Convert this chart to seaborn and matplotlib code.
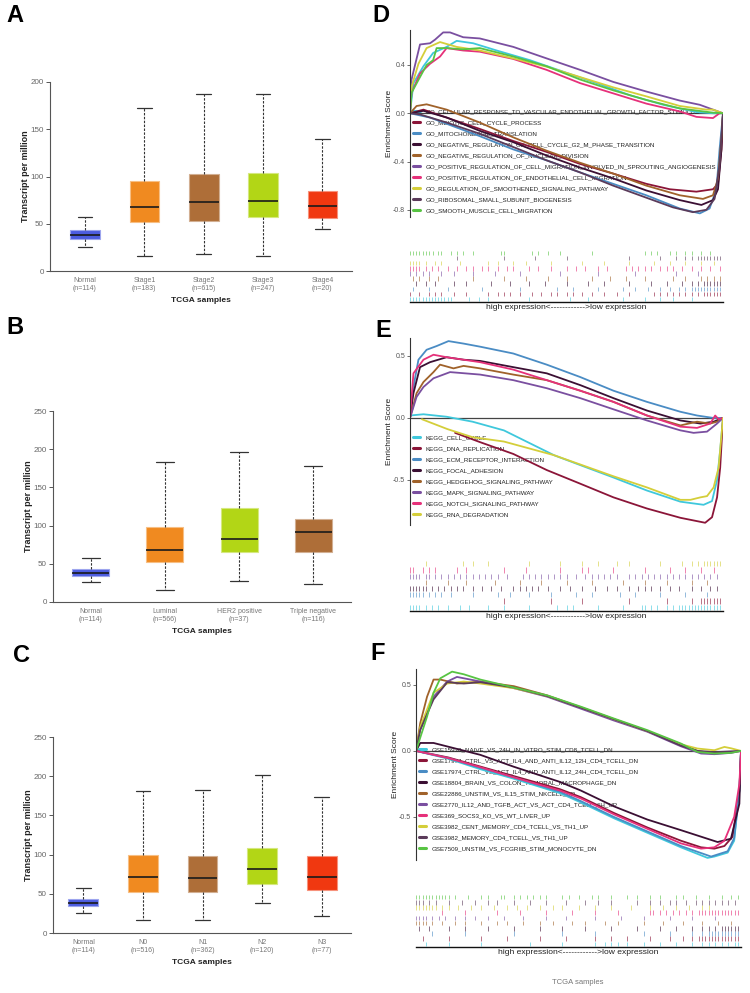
import numpy as np
import pandas as pd
import matplotlib
matplotlib.use("Agg")
import matplotlib.pyplot as plt
import matplotlib.colors as mcolors
from matplotlib.lines import Line2D
import seaborn as sns

# ---------------------------------------------------------------- data: box plots
BLUE, ORANGE, BROWN, LIME, RED = "#4C5CE0", "#F08A20", "#AE6E38", "#B2D616", "#F03810"

A_GROUPS = ["Normal\n(n=114)", "Stage1\n(n=183)", "Stage2\n(n=615)", "Stage3\n(n=247)", "Stage4\n(n=20)"]
A_COLORS = [BLUE, ORANGE, BROWN, LIME, RED]
A_LOW = [25.7, 15.8, 18.0, 15.8, 44.7]
A_Q1 = [34.2, 51.4, 52.8, 57.0, 55.6]
A_MED = [38.4, 67.6, 72.5, 74.6, 68.7]
A_Q3 = [43.3, 95.0, 102.5, 104.0, 84.9]
A_HIGH = [56.7, 172.5, 187.0, 187.3, 140.0]

B_GROUPS = ["Normal\n(n=114)", "Luminal\n(n=566)", "HER2 positive\n(n=37)", "Triple negative\n(n=116)"]
B_COLORS = [BLUE, ORANGE, LIME, BROWN]
B_LOW = [25.7, 15.7, 27.4, 23.9]
B_Q1 = [34.3, 52.2, 64.8, 65.7]
B_MED = [38.3, 68.7, 82.2, 91.7]
B_Q3 = [43.5, 98.3, 122.6, 109.0]
B_HIGH = [57.0, 182.6, 196.5, 177.8]

C_GROUPS = ["Normal\n(n=114)", "N0\n(n=516)", "N1\n(n=362)", "N2\n(n=120)", "N3\n(n=77)"]
C_COLORS = [BLUE, ORANGE, BROWN, LIME, RED]
C_LOW = [25.9, 16.2, 16.2, 37.8, 21.3]
C_Q1 = [34.9, 52.3, 52.3, 62.5, 54.4]
C_MED = [38.3, 71.0, 70.2, 81.6, 71.9]
C_Q3 = [43.8, 99.5, 98.2, 108.0, 97.8]
C_HIGH = [57.4, 180.7, 182.8, 201.0, 173.9]

# ---------------------------------------------------------------- data: GSEA palettes
CY, DR, BL, DK, BR, PU, PK, YE, MV, GR = ("#3FC8DC", "#8B1538", "#4A8CC4", "#3B0F33", "#A0622A",
                                          "#7A4FA0", "#E6317A", "#D4CE3A", "#5B3B5A", "#58C443")

D_TERMS = ["GO_CELLULAR_RESPONSE_TO_VASCULAR_ENDOTHELIAL_GROWTH_FACTOR_STIMULUS",
           "GO_MEIOTIC_CELL_CYCLE_PROCESS",
           "GO_MITOCHONDRIAL_TRANSLATION",
           "GO_NEGATIVE_REGULATION_OF_CELL_CYCLE_G2_M_PHASE_TRANSITION",
           "GO_NEGATIVE_REGULATION_OF_NUCLEAR_DIVISION",
           "GO_POSITIVE_REGULATION_OF_CELL_MIGRATION_INVOLVED_IN_SPROUTING_ANGIOGENESIS",
           "GO_POSITIVE_REGULATION_OF_ENDOTHELIAL_CELL_MIGRATION",
           "GO_REGULATION_OF_SMOOTHENED_SIGNALING_PATHWAY",
           "GO_RIBOSOMAL_SMALL_SUBUNIT_BIOGENESIS",
           "GO_SMOOTH_MUSCLE_CELL_MIGRATION"]
D_COLORS = [CY, DR, BL, DK, BR, PU, PK, YE, MV, GR]
D_CURVES = [
    [(0, 0), (0.011, 0.25), (0.043, 0.39), (0.074, 0.5), (0.117, 0.55), (0.149, 0.6), (0.202, 0.58), (0.277, 0.52), (0.383, 0.44), (0.489, 0.345), (0.596, 0.25), (0.702, 0.15), (0.809, 0.07), (0.915, 0.01), (0.968, 0.0), (1.0, 0)],
    [(0, 0), (0.043, 0.03), (0.117, -0.036), (0.223, -0.13), (0.33, -0.23), (0.436, -0.32), (0.543, -0.42), (0.649, -0.5), (0.755, -0.585), (0.83, -0.63), (0.915, -0.65), (0.968, -0.63), (0.984, -0.585), (0.995, -0.3), (1.0, 0)],
    [(0, 0), (0.064, -0.036), (0.223, -0.19), (0.33, -0.3), (0.436, -0.39), (0.543, -0.49), (0.649, -0.585), (0.755, -0.68), (0.862, -0.79), (0.926, -0.83), (0.957, -0.79), (0.979, -0.63), (0.989, -0.3), (1.0, 0)],
    [(0, 0), (0.043, 0.02), (0.117, -0.035), (0.223, -0.146), (0.33, -0.24), (0.436, -0.35), (0.543, -0.45), (0.649, -0.54), (0.755, -0.64), (0.862, -0.72), (0.931, -0.76), (0.968, -0.72), (0.984, -0.63), (0.995, -0.3), (1.0, 0)],
    [(0, 0), (0.021, 0.06), (0.053, 0.074), (0.117, 0.03), (0.223, -0.077), (0.33, -0.2), (0.436, -0.31), (0.543, -0.41), (0.649, -0.5), (0.755, -0.6), (0.862, -0.68), (0.936, -0.71), (0.968, -0.68), (0.984, -0.54), (0.995, -0.21), (1.0, 0)],
    [(0, 0), (0.005, 0.28), (0.032, 0.57), (0.064, 0.58), (0.08, 0.61), (0.106, 0.67), (0.128, 0.67), (0.17, 0.63), (0.223, 0.62), (0.33, 0.55), (0.436, 0.455), (0.543, 0.36), (0.649, 0.26), (0.755, 0.18), (0.862, 0.105), (0.926, 0.07), (0.968, 0.03), (1.0, 0)],
    [(0, 0), (0.005, 0.17), (0.032, 0.33), (0.064, 0.41), (0.096, 0.47), (0.117, 0.54), (0.17, 0.52), (0.223, 0.51), (0.33, 0.45), (0.436, 0.36), (0.543, 0.25), (0.649, 0.165), (0.755, 0.08), (0.862, 0.015), (0.915, -0.03), (0.968, -0.04), (0.989, 0.0), (1.0, 0)],
    [(0, 0), (0.005, 0.22), (0.027, 0.41), (0.053, 0.54), (0.096, 0.59), (0.149, 0.55), (0.223, 0.52), (0.33, 0.455), (0.436, 0.386), (0.543, 0.3), (0.649, 0.215), (0.755, 0.14), (0.862, 0.06), (0.947, 0.03), (0.968, 0.03), (1.0, 0)],
    [(0, 0), (0.032, -0.01), (0.117, -0.077), (0.223, -0.17), (0.33, -0.28), (0.436, -0.39), (0.543, -0.49), (0.649, -0.6), (0.755, -0.7), (0.84, -0.78), (0.904, -0.82), (0.947, -0.8), (0.973, -0.71), (0.989, -0.43), (1.0, 0)],
    [(0, 0), (0.005, 0.17), (0.032, 0.3), (0.053, 0.4), (0.074, 0.44), (0.085, 0.54), (0.117, 0.54), (0.17, 0.53), (0.223, 0.54), (0.33, 0.47), (0.436, 0.39), (0.543, 0.28), (0.649, 0.19), (0.755, 0.11), (0.862, 0.04), (0.968, 0.005), (1.0, 0)],
]
D_HITS = [
    [0.0, 0.01, 0.02, 0.03, 0.04, 0.05, 0.06, 0.07, 0.08, 0.09, 0.1, 0.11, 0.12, 0.13, 0.19, 0.22, 0.25, 0.38, 0.51, 0.57, 0.68, 0.75, 0.8, 0.84, 0.9],
    [0.0, 0.03, 0.06, 0.08, 0.1, 0.14, 0.18, 0.25, 0.28, 0.3, 0.32, 0.35, 0.39, 0.42, 0.45, 0.47, 0.5, 0.52, 0.55, 0.58, 0.62, 0.66, 0.7, 0.78, 0.8, 0.82, 0.84, 0.86, 0.88, 0.9, 0.92, 0.94, 0.95, 0.96, 0.97, 0.98, 0.99],
    [0.01, 0.06, 0.12, 0.23, 0.35, 0.47, 0.52, 0.6, 0.68, 0.72, 0.76, 0.8, 0.83, 0.86, 0.88, 0.9, 0.91, 0.92, 0.93, 0.94, 0.95, 0.96, 0.97, 0.98, 0.99],
    [0.02, 0.05, 0.08, 0.14, 0.18, 0.26, 0.32, 0.38, 0.43, 0.5, 0.57, 0.62, 0.7, 0.77, 0.82, 0.87, 0.9, 0.92, 0.94, 0.95, 0.96, 0.97, 0.98, 0.99],
    [0.01, 0.03, 0.06, 0.09, 0.2, 0.3, 0.37, 0.44, 0.5, 0.58, 0.64, 0.69, 0.75, 0.84, 0.88, 0.93, 0.95, 0.97, 0.99],
    [0.0, 0.02, 0.04, 0.06, 0.1, 0.14, 0.2, 0.27, 0.35, 0.48, 0.6, 0.72, 0.85, 0.92],
    [0.0, 0.01, 0.02, 0.03, 0.05, 0.07, 0.09, 0.12, 0.15, 0.18, 0.2, 0.23, 0.25, 0.28, 0.31, 0.33, 0.38, 0.41, 0.45, 0.5, 0.53, 0.56, 0.6, 0.63, 0.69, 0.71, 0.73, 0.75, 0.77, 0.8, 0.82, 0.84, 0.87, 0.9, 0.93, 0.96, 0.99],
    [0.0, 0.01, 0.02, 0.03, 0.05, 0.08, 0.1, 0.16, 0.25, 0.28, 0.33, 0.37, 0.45, 0.55, 0.62, 0.7, 0.78, 0.83, 0.88, 0.93, 0.97],
    [0.15, 0.3, 0.4, 0.5, 0.7, 0.8, 0.85, 0.88, 0.9, 0.92, 0.93, 0.94, 0.95, 0.96, 0.97, 0.98, 0.99],
    [0.0, 0.01, 0.02, 0.03, 0.04, 0.05, 0.06, 0.075, 0.09, 0.1, 0.13, 0.15, 0.17, 0.2, 0.29, 0.3, 0.39, 0.41, 0.44, 0.48, 0.58, 0.75, 0.77, 0.79, 0.83, 0.85, 0.88, 0.9, 0.93, 0.96],
]
D_YTICKS = [-0.8, -0.4, 0.0, 0.4]
D_YLABELS = ["-0.8", "-0.4", "0.0", "0.4"]

E_TERMS = ["KEGG_CELL_CYCLE", "KEGG_DNA_REPLICATION", "KEGG_ECM_RECEPTOR_INTERACTION", "KEGG_FOCAL_ADHESION",
           "KEGG_HEDGEHOG_SIGNALING_PATHWAY", "KEGG_MAPK_SIGNALING_PATHWAY", "KEGG_NOTCH_SIGNALING_PATHWAY",
           "KEGG_RNA_DEGRADATION"]
E_COLORS = [CY, DR, BL, DK, BR, PU, PK, YE]
E_CURVES = [
    [(0, 0.02), (0.043, 0.03), (0.117, 0.01), (0.2, -0.03), (0.3, -0.1), (0.46, -0.3), (0.544, -0.38), (0.65, -0.48), (0.757, -0.585), (0.864, -0.675), (0.938, -0.70), (0.965, -0.67), (0.981, -0.5), (0.991, -0.26), (1.0, 0)],
    [(0.144, -0.12), (0.224, -0.195), (0.33, -0.29), (0.437, -0.42), (0.544, -0.53), (0.65, -0.64), (0.757, -0.73), (0.864, -0.805), (0.943, -0.845), (0.965, -0.8), (0.981, -0.64), (0.991, -0.4), (1.0, 0)],
    [(0, 0), (0.011, 0.25), (0.027, 0.47), (0.053, 0.55), (0.085, 0.58), (0.123, 0.62), (0.171, 0.6), (0.224, 0.575), (0.33, 0.52), (0.437, 0.43), (0.544, 0.33), (0.65, 0.22), (0.757, 0.13), (0.864, 0.05), (0.917, 0.02), (0.97, 0.0), (1.0, 0)],
    [(0, 0), (0.011, 0.2), (0.032, 0.41), (0.064, 0.45), (0.117, 0.49), (0.171, 0.47), (0.224, 0.46), (0.33, 0.41), (0.437, 0.36), (0.544, 0.265), (0.65, 0.16), (0.757, 0.06), (0.864, -0.02), (0.928, -0.045), (0.97, -0.03), (1.0, 0)],
    [(0, 0), (0.021, 0.2), (0.043, 0.29), (0.075, 0.37), (0.096, 0.43), (0.139, 0.4), (0.171, 0.42), (0.224, 0.4), (0.33, 0.35), (0.437, 0.305), (0.544, 0.22), (0.65, 0.13), (0.757, 0.02), (0.864, -0.06), (0.917, -0.03), (0.959, -0.045), (0.981, -0.03), (1.0, 0)],
    [(0, 0), (0.021, 0.17), (0.043, 0.25), (0.075, 0.32), (0.128, 0.37), (0.224, 0.35), (0.33, 0.305), (0.437, 0.24), (0.544, 0.16), (0.65, 0.07), (0.757, -0.02), (0.864, -0.1), (0.906, -0.12), (0.949, -0.11), (0.981, -0.045), (1.0, 0)],
    [(0, 0), (0.011, 0.36), (0.043, 0.47), (0.075, 0.51), (0.117, 0.49), (0.224, 0.45), (0.33, 0.39), (0.437, 0.305), (0.544, 0.22), (0.65, 0.13), (0.757, 0.02), (0.864, -0.07), (0.917, -0.08), (0.959, -0.045), (0.975, 0.02), (0.986, -0.01), (1.0, 0)],
    [(0.038, -0.01), (0.12, -0.09), (0.2, -0.155), (0.3, -0.19), (0.46, -0.3), (0.544, -0.375), (0.65, -0.47), (0.757, -0.56), (0.864, -0.66), (0.896, -0.66), (0.928, -0.64), (0.949, -0.63), (0.97, -0.56), (0.986, -0.4), (1.0, 0)],
]
E_HITS = [
    [0.0, 0.01, 0.02, 0.03, 0.05, 0.07, 0.09, 0.12, 0.16, 0.19, 0.25, 0.3, 0.38, 0.47, 0.5, 0.52, 0.6, 0.68, 0.74, 0.75, 0.77, 0.79, 0.82, 0.84, 0.86, 0.87, 0.88, 0.89, 0.9, 0.91, 0.92, 0.93, 0.94, 0.95, 0.96, 0.97, 0.98, 0.99],
    [0.3, 0.45, 0.55, 0.7, 0.82, 0.9, 0.93, 0.94, 0.95, 0.96, 0.97, 0.98, 0.99],
    [0.0, 0.01, 0.02, 0.03, 0.04, 0.06, 0.08, 0.1, 0.13, 0.2, 0.28, 0.32, 0.38, 0.45, 0.53, 0.58, 0.67, 0.72, 0.8, 0.88, 0.95],
    [0.0, 0.01, 0.02, 0.03, 0.04, 0.05, 0.07, 0.09, 0.11, 0.13, 0.15, 0.17, 0.2, 0.23, 0.26, 0.29, 0.33, 0.35, 0.37, 0.39, 0.41, 0.44, 0.48, 0.51, 0.55, 0.59, 0.63, 0.66, 0.7, 0.73, 0.75, 0.77, 0.8, 0.83, 0.86, 0.9, 0.93, 0.96, 0.98],
    [0.05, 0.12, 0.18, 0.27, 0.35, 0.42, 0.5, 0.58, 0.68, 0.75, 0.82, 0.9, 0.95],
    [0.0, 0.01, 0.02, 0.03, 0.05, 0.06, 0.08, 0.1, 0.12, 0.14, 0.16, 0.18, 0.2, 0.22, 0.24, 0.26, 0.28, 0.31, 0.36, 0.38, 0.4, 0.42, 0.44, 0.46, 0.48, 0.5, 0.53, 0.56, 0.58, 0.6, 0.62, 0.64, 0.66, 0.7, 0.72, 0.74, 0.76, 0.78, 0.8, 0.82, 0.84, 0.86, 0.88, 0.9, 0.92, 0.94, 0.96, 0.98],
    [0.0, 0.01, 0.04, 0.06, 0.08, 0.15, 0.18, 0.3, 0.37, 0.48, 0.55, 0.57, 0.65, 0.75, 0.83, 0.88, 0.93, 0.97],
    [0.05, 0.17, 0.2, 0.25, 0.38, 0.48, 0.55, 0.6, 0.66, 0.7, 0.8, 0.87, 0.9, 0.92, 0.94, 0.95, 0.96, 0.97, 0.98, 0.99],
]
E_YTICKS = [-0.5, 0.0, 0.5]
E_YLABELS = ["-0.5", "0.0", "0.5"]

F_TERMS = ["GSE15930_NAIVE_VS_24H_IN_VITRO_STIM_CD8_TCELL_DN",
           "GSE17974_CTRL_VS_ACT_IL4_AND_ANTI_IL12_12H_CD4_TCELL_DN",
           "GSE17974_CTRL_VS_ACT_IL4_AND_ANTI_IL12_24H_CD4_TCELL_DN",
           "GSE18804_BRAIN_VS_COLON_TUMORAL_MACROPHAGE_DN",
           "GSE22886_UNSTIM_VS_IL15_STIM_NKCELL_UP",
           "GSE2770_IL12_AND_TGFB_ACT_VS_ACT_CD4_TCELL_6H_UP",
           "GSE369_SOCS3_KO_VS_WT_LIVER_UP",
           "GSE3982_CENT_MEMORY_CD4_TCELL_VS_TH1_UP",
           "GSE3982_MEMORY_CD4_TCELL_VS_TH1_UP",
           "GSE7509_UNSTIM_VS_FCGRIIB_STIM_MONOCYTE_DN"]
F_COLORS = [CY, DR, BL, DK, BR, PU, PK, YE, MV, GR]
F_CURVES = [
    [(0, 0), (0.1, -0.06), (0.2, -0.14), (0.3, -0.21), (0.443, -0.32), (0.507, -0.39), (0.609, -0.51), (0.712, -0.62), (0.815, -0.73), (0.897, -0.81), (0.918, -0.8), (0.959, -0.77), (0.979, -0.68), (0.995, -0.3), (1, 0)],
    [(0, 0), (0.1, -0.05), (0.2, -0.12), (0.3, -0.19), (0.443, -0.29), (0.507, -0.35), (0.609, -0.47), (0.712, -0.58), (0.815, -0.68), (0.877, -0.73), (0.918, -0.74), (0.949, -0.72), (0.974, -0.65), (0.995, -0.3), (1, 0)],
    [(0, 0), (0.1, -0.055), (0.2, -0.13), (0.3, -0.2), (0.443, -0.31), (0.507, -0.38), (0.609, -0.5), (0.712, -0.61), (0.815, -0.72), (0.908, -0.8), (0.959, -0.76), (0.979, -0.66), (0.995, -0.3), (1, 0)],
    [(0, 0), (0.013, 0.06), (0.054, 0.06), (0.198, -0.03), (0.301, -0.12), (0.443, -0.235), (0.507, -0.3), (0.609, -0.42), (0.712, -0.52), (0.815, -0.6), (0.928, -0.69), (0.969, -0.665), (0.995, -0.4), (1, 0)],
    [(0, 0), (0.013, 0.21), (0.034, 0.41), (0.054, 0.54), (0.075, 0.54), (0.126, 0.51), (0.198, 0.525), (0.301, 0.49), (0.404, 0.42), (0.507, 0.33), (0.609, 0.24), (0.712, 0.15), (0.815, 0.05), (0.866, 0.0), (0.918, -0.02), (0.969, -0.01), (1, 0)],
    [(0, 0), (0.013, 0.16), (0.034, 0.28), (0.054, 0.41), (0.096, 0.525), (0.126, 0.56), (0.198, 0.525), (0.301, 0.475), (0.404, 0.41), (0.507, 0.32), (0.609, 0.23), (0.712, 0.145), (0.815, 0.035), (0.877, -0.02), (0.918, -0.025), (0.969, -0.015), (1, 0)],
    [(0, 0), (0.1, -0.055), (0.2, -0.125), (0.3, -0.2), (0.443, -0.3), (0.507, -0.36), (0.609, -0.48), (0.712, -0.59), (0.815, -0.7), (0.877, -0.74), (0.918, -0.73), (0.949, -0.68), (0.979, -0.5), (0.995, -0.25), (1, 0)],
    [(0, 0), (0.013, 0.18), (0.054, 0.44), (0.096, 0.51), (0.147, 0.525), (0.198, 0.51), (0.301, 0.475), (0.404, 0.415), (0.507, 0.33), (0.609, 0.24), (0.712, 0.15), (0.815, 0.05), (0.866, 0.018), (0.918, 0.005), (0.949, 0.03), (0.969, 0.02), (1, 0)],
    [(0, 0), (0.013, 0.16), (0.054, 0.39), (0.096, 0.52), (0.147, 0.51), (0.198, 0.52), (0.301, 0.48), (0.404, 0.415), (0.507, 0.328), (0.609, 0.24), (0.712, 0.15), (0.815, 0.04), (0.866, 0.0), (0.918, -0.01), (1, 0)],
    [(0, 0), (0.013, 0.1), (0.034, 0.26), (0.054, 0.44), (0.075, 0.55), (0.111, 0.6), (0.147, 0.58), (0.198, 0.54), (0.301, 0.48), (0.404, 0.42), (0.507, 0.335), (0.609, 0.245), (0.712, 0.157), (0.815, 0.056), (0.866, -0.008), (0.918, -0.02), (0.969, -0.015), (1, 0)],
]
F_HITS = [
    [0.03, 0.1, 0.2, 0.35, 0.45, 0.55, 0.58, 0.6, 0.62, 0.65, 0.7, 0.75, 0.8, 0.85, 0.88, 0.9, 0.92, 0.94, 0.96, 0.98, 0.99],
    [0.02, 0.1, 0.2, 0.28, 0.38, 0.46, 0.55, 0.6, 0.65, 0.72, 0.78, 0.82, 0.85, 0.87, 0.88, 0.89, 0.9, 0.91, 0.92, 0.93, 0.94, 0.95, 0.96, 0.97, 0.98, 0.99],
    [0.05, 0.15, 0.3, 0.45, 0.55, 0.7, 0.78, 0.85, 0.88, 0.9, 0.91, 0.92, 0.93, 0.94, 0.95, 0.96, 0.97, 0.98, 0.99],
    [0.01, 0.04, 0.1, 0.15, 0.22, 0.3, 0.38, 0.45, 0.52, 0.6, 0.68, 0.75, 0.8, 0.85, 0.88, 0.9, 0.92, 0.94, 0.95, 0.96, 0.97, 0.98, 0.99],
    [0.0, 0.01, 0.02, 0.03, 0.05, 0.08, 0.12, 0.15, 0.2, 0.25, 0.28, 0.33, 0.38, 0.42, 0.48, 0.52, 0.58, 0.62, 0.7, 0.76, 0.82, 0.88, 0.93, 0.97],
    [0.0, 0.01, 0.02, 0.03, 0.05, 0.07, 0.09, 0.12, 0.15, 0.18, 0.22, 0.27, 0.33, 0.4, 0.46, 0.55, 0.63, 0.7, 0.78, 0.85, 0.92],
    [0.08, 0.15, 0.25, 0.32, 0.4, 0.48, 0.55, 0.62, 0.72, 0.73, 0.75, 0.77, 0.79, 0.81, 0.83, 0.85, 0.87, 0.88, 0.89, 0.9, 0.91, 0.92, 0.93, 0.94, 0.95, 0.96, 0.97, 0.98, 0.99],
    [0.0, 0.01, 0.02, 0.03, 0.04, 0.05, 0.06, 0.08, 0.1, 0.13, 0.17, 0.2, 0.24, 0.28, 0.31, 0.34, 0.38, 0.42, 0.45, 0.5, 0.55, 0.6, 0.66, 0.72, 0.76, 0.8, 0.84, 0.88, 0.9],
    [0.0, 0.01, 0.02, 0.04, 0.06, 0.1, 0.14, 0.18, 0.22, 0.25, 0.3, 0.35, 0.4, 0.46, 0.52, 0.56, 0.6, 0.68, 0.72, 0.75, 0.78, 0.8, 0.83, 0.86, 0.88, 0.9, 0.92, 0.94, 0.96, 0.98],
    [0.0, 0.01, 0.02, 0.03, 0.04, 0.05, 0.06, 0.07, 0.08, 0.09, 0.1, 0.12, 0.16, 0.2, 0.22, 0.26, 0.27, 0.3, 0.32, 0.34, 0.36, 0.38, 0.4, 0.45, 0.47, 0.5, 0.54, 0.56, 0.6, 0.65, 0.68, 0.72, 0.75, 0.8, 0.82, 0.86, 0.9, 0.94, 0.97, 0.99],
]
F_YTICKS = [-0.5, 0.0, 0.5]
F_YLABELS = ["-0.5", "0.0", "0.5"]

RANK_LABEL = "high expression<------------>low expression"

# ---------------------------------------------------------------- figure
sns.set_theme(style="ticks")
plt.rcParams["font.family"] = ["Liberation Sans", "DejaVu Sans"]

W, H = 750, 993
fig = plt.figure(figsize=(W / 100, H / 100), dpi=100)


def add_ax(l, t, r, b):
    return fig.add_axes([l / W, 1 - b / H, (r - l) / W, (b - t) / H])


def ftext(x, y, s, **kw):
    fig.text(x / W, 1 - y / H, s, **kw)


def box_panel(box, groups, colors, low, q1, med, q3, high, ymax, xlim):
    ax = add_ax(*box)
    rows = []
    for g, a, b, c, d, e in zip(groups, low, q1, med, q3, high):
        for v in (a, b, c, d, e):
            rows.append((g, v))
    df = pd.DataFrame(rows, columns=["group", "tpm"])
    sns.boxplot(data=df, x="group", y="tpm", hue="group", order=groups, hue_order=groups,
                palette=colors, saturation=1, width=0.5, whis=(0, 100), showfliers=False,
                linewidth=0.9, legend=False, ax=ax)
    for p in ax.patches:
        fc = np.array(mcolors.to_rgba(p.get_facecolor()))
        p.set_edgecolor(tuple(fc[:3] * 0.55 + 0.45))
        p.set_linewidth(0.8)
    for ln in ax.lines:
        xd = np.asarray(ln.get_xdata(), dtype=float)
        if len(xd) < 2:
            continue
        if np.isclose(xd[0], xd[-1]):
            ln.set_linestyle((0, (2.2, 1.3)))
            ln.set_color("#333333")
            ln.set_linewidth(0.8)
        elif abs(xd[-1] - xd[0]) > 0.4:
            ln.set_color("#1a1a1a")
            ln.set_linewidth(1.2)
        else:
            ln.set_color("#333333")
            ln.set_linewidth(0.9)
    ax.set_ylim(0, ymax)
    ax.set_xlim(*xlim)
    ax.set_yticks(np.arange(0, ymax + 1, 50))
    for s in ("top", "right"):
        ax.spines[s].set_visible(False)
    for s in ("left", "bottom"):
        ax.spines[s].set_color("#555555")
        ax.spines[s].set_linewidth(0.8)
    ax.tick_params(axis="y", length=3, width=0.7, color="#555555", labelsize=5.8,
                   labelcolor="#666666", pad=1.5)
    ax.tick_params(axis="x", length=0, labelsize=5.0, labelcolor="#777777", pad=4)
    for t in ax.get_xticklabels():
        t.set_linespacing(1.25)
    ax.set_ylabel("Transcript per million", fontsize=6.5, fontweight="bold", color="#222222", labelpad=0.5)
    ax.set_xlabel("TCGA samples", fontsize=6, fontweight="bold", color="#222222", labelpad=4)
    return ax


def gsea_panel(es_box, rug_box, terms, colors, curves, hits, ylim, yticks, ylabels, leg_xy, label_y):
    ax = add_ax(*es_box)
    rows = []
    for term, pts in zip(terms, curves):
        for x, y in pts:
            rows.append((term, x, y))
    df = pd.DataFrame(rows, columns=["term", "rank", "es"])
    ax.axhline(0, color="#444444", lw=0.9, zorder=1)
    sns.lineplot(data=df, x="rank", y="es", hue="term", hue_order=terms, palette=colors,
                 sort=False, estimator=None, linewidth=1.3, legend=False, ax=ax)
    ax.set_xlim(0, 1)
    ax.set_ylim(*ylim)
    ax.set_yticks(yticks)
    ax.set_yticklabels(ylabels)
    ax.set_xticks([])
    ax.set_xlabel("")
    for s in ("top", "right", "bottom"):
        ax.spines[s].set_visible(False)
    ax.spines["left"].set_color("#333333")
    ax.spines["left"].set_linewidth(0.8)
    ax.tick_params(axis="y", length=2, width=0.6, color="#555555", labelsize=5,
                   labelcolor="#555555", pad=1.5)
    ax.set_ylabel("Enrichment Score", fontsize=6, color="#222222", labelpad=0)
    handles = [Line2D([0], [0], color=c, lw=2.2) for c in colors]
    leg = ax.legend(handles, terms, loc="upper left",
                    bbox_to_anchor=(leg_xy[0] / W, 1 - leg_xy[1] / H), bbox_transform=fig.transFigure,
                    frameon=False, fontsize=4.5, handlelength=1.1, handletextpad=0.9,
                    labelspacing=0.9, borderpad=0, borderaxespad=0)
    for t in leg.get_texts():
        t.set_color("#222222")
    leg.set_zorder(1.5)

    rax = add_ax(*rug_box)
    n = len(terms)
    rax.eventplot(hits, lineoffsets=np.arange(n), linelengths=0.85, colors=colors,
                  linewidths=0.7, alpha=0.6)
    rax.set_xlim(0, 1)
    rax.set_ylim(-0.6, n - 0.4)
    rax.set_xticks([])
    rax.set_yticks([])
    for s in ("top", "right", "left"):
        rax.spines[s].set_visible(False)
    rax.spines["bottom"].set_color("#111111")
    rax.spines["bottom"].set_linewidth(1.0)
    cx = (rug_box[0] + rug_box[2]) / 2
    ftext(cx, label_y, RANK_LABEL, ha="center", va="center", fontsize=6.1, color="#222222")


box_panel((50, 82, 352, 271), A_GROUPS, A_COLORS, A_LOW, A_Q1, A_MED, A_Q3, A_HIGH, 200, (-0.59, 4.5))
box_panel((53, 411, 351, 602), B_GROUPS, B_COLORS, B_LOW, B_Q1, B_MED, B_Q3, B_HIGH, 250, (-0.51, 3.51))
box_panel((53, 737, 351, 933), C_GROUPS, C_COLORS, C_LOW, C_Q1, C_MED, C_Q3, C_HIGH, 250, (-0.51, 4.49))

gsea_panel((410, 30, 723, 217), (410, 250, 723, 302), D_TERMS, D_COLORS, D_CURVES, D_HITS,
           (-0.86, 0.69), D_YTICKS, D_YLABELS, (413, 108.5), 308)
gsea_panel((410, 338, 723, 525), (410, 560, 723, 611), E_TERMS, E_COLORS, E_CURVES, E_HITS,
           (-0.863, 0.645), E_YTICKS, E_YLABELS, (413, 434.5), 616)
gsea_panel((416, 669, 741, 860), (416, 894, 741, 947), F_TERMS, F_COLORS, F_CURVES, F_HITS,
           (-0.826, 0.62), F_YTICKS, F_YLABELS, (419, 746.5), 952)

ftext(578, 982, "TCGA samples", ha="center", va="center", fontsize=5.5, color="#777777")

for letter, x, y in [("A", 15, 16), ("B", 15, 327), ("C", 22, 655),
                     ("D", 381, 15), ("E", 383, 331), ("F", 378, 654)]:
    ftext(x, y, letter, ha="center", va="center", fontsize=17, fontweight="bold", color="#000000")

fig.savefig("out.png", dpi=100, facecolor="white")
